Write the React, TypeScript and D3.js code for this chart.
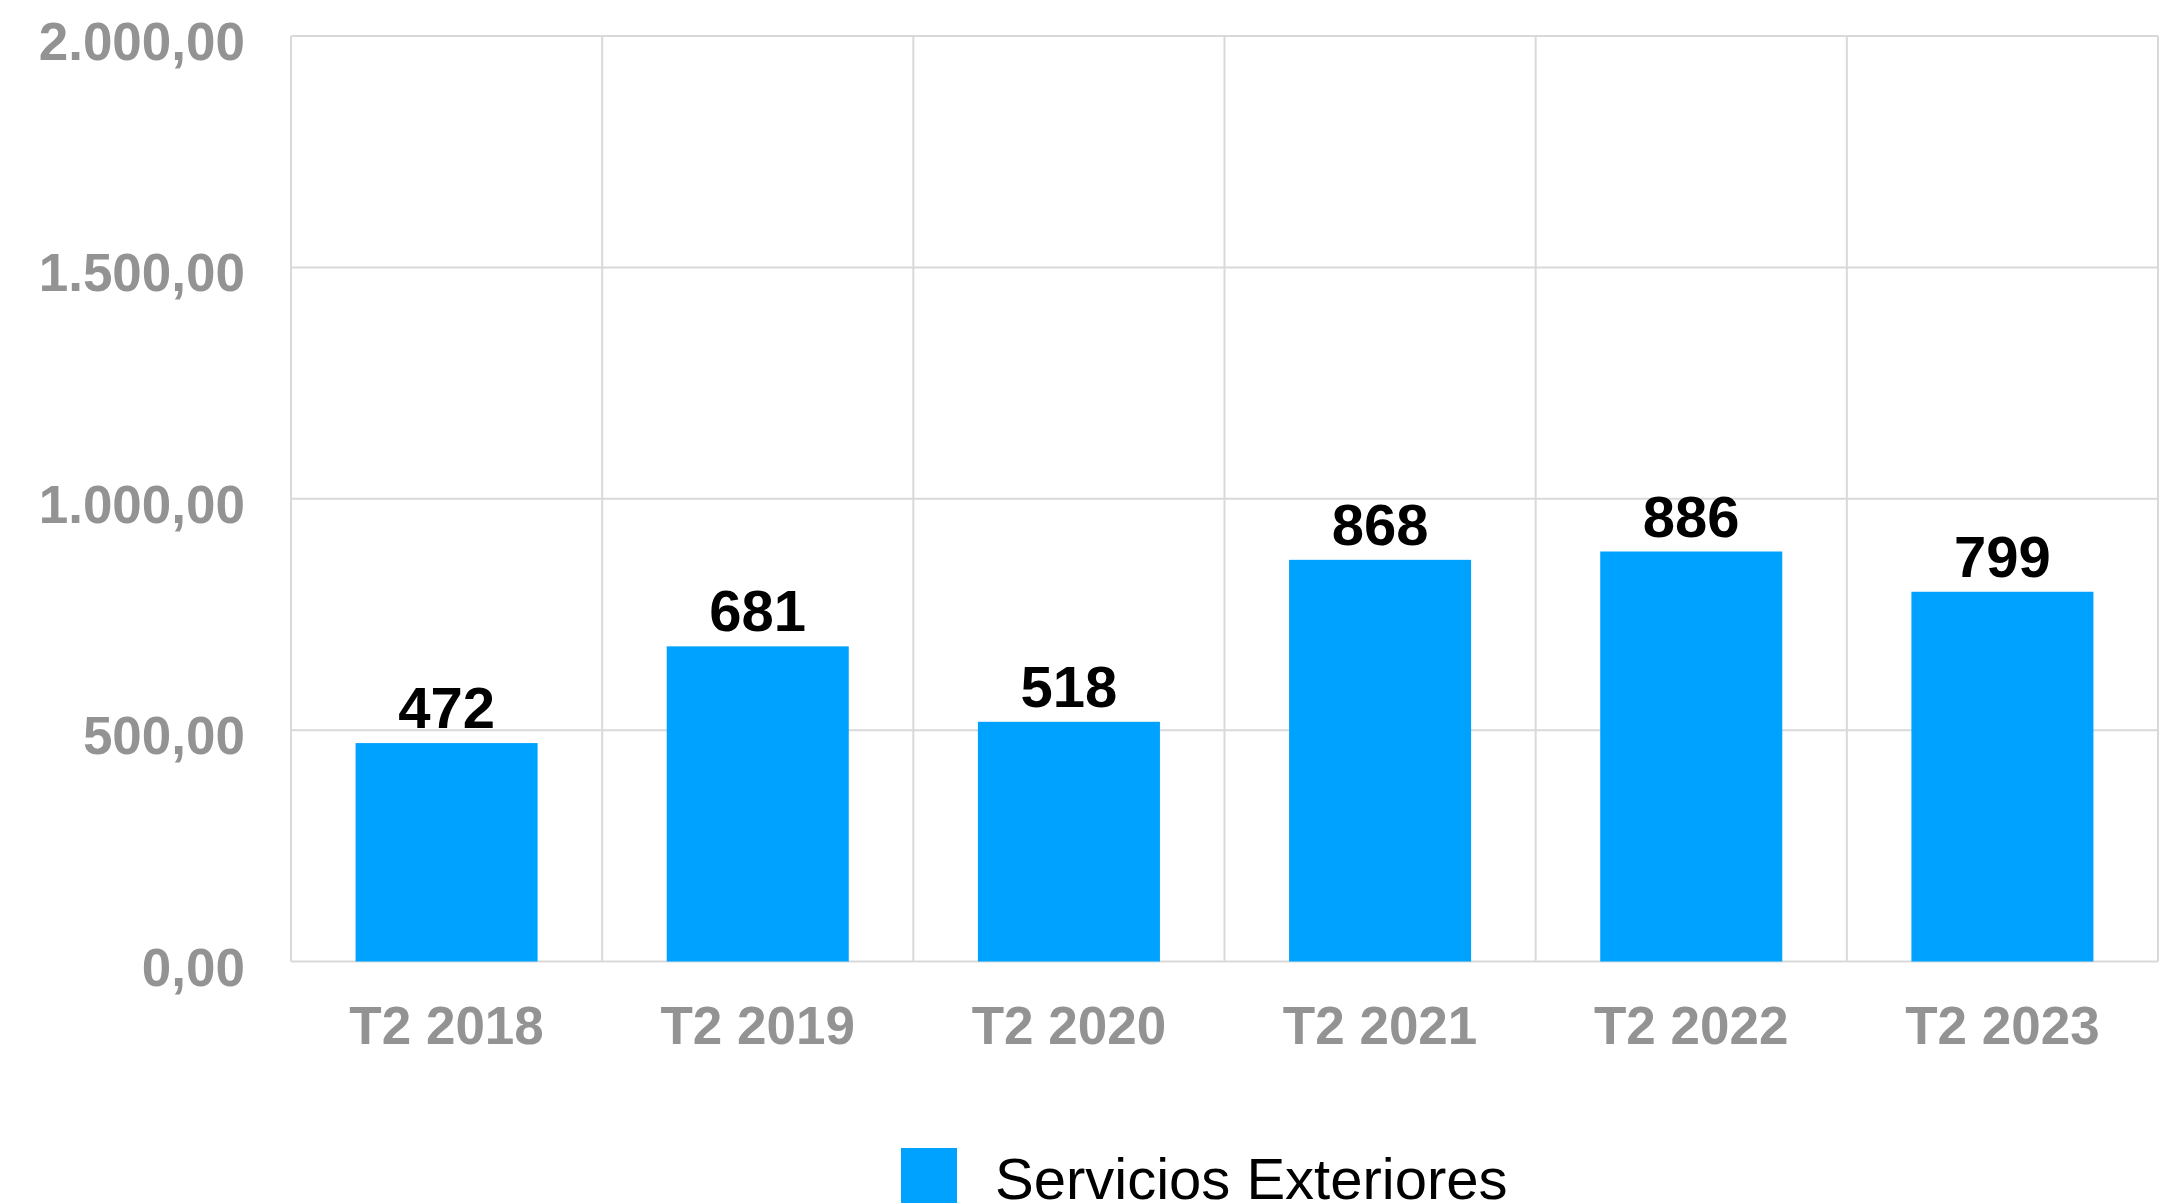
import React from "react";
import * as d3 from "d3";

const categories = ["T2 2018", "T2 2019", "T2 2020", "T2 2021", "T2 2022", "T2 2023"];
const values = [472, 681, 518, 868, 886, 799];
const yTicks = [0, 500, 1000, 1500, 2000];
const seriesName = "Servicios Exteriores";

const W = 2177;
const H = 1203;
const M = { left: 291, right: 2158, top: 36, bottom: 961.5 };
const FONT = "'Liberation Sans', Arial, Helvetica, sans-serif";
const BAR = "#00A2FF";
const GRID = "#d9d9d9";
const TICK = "#939393";

const fmt = (v: number) => {
  const s = v.toFixed(2).replace(".", ",");
  const [i, d] = s.split(",");
  return i.replace(/\B(?=(\d{3})+(?!\d))/g, ".") + "," + d;
};

export default function App() {
  if (typeof document !== "undefined") {
    document.body.style.margin = "0";
    document.body.style.overflow = "hidden";
  }
  const x = d3.scaleBand<string>().domain(categories).range([M.left, M.right]).padding(0);
  const y = d3.scaleLinear().domain([0, 2000]).range([M.bottom, M.top]);
  const bw = x.bandwidth() * 0.585;

  return (
    <svg width={W} height={H} style={{ position: "absolute", left: 0, top: 0, background: "#fff" }}>
      {/* horizontal grid */}
      {yTicks.map((t) => (
        <line key={"h" + t} x1={M.left} x2={M.right} y1={y(t)} y2={y(t)} stroke={GRID} strokeWidth={2} />
      ))}
      {/* vertical grid */}
      {categories.map((c) => (
        <line key={"v" + c} x1={x(c)!} x2={x(c)!} y1={M.top} y2={M.bottom} stroke={GRID} strokeWidth={2} />
      ))}
      <line x1={M.right} x2={M.right} y1={M.top} y2={M.bottom} stroke={GRID} strokeWidth={2} />
      {/* y tick labels */}
      {yTicks.map((t) => (
        <text key={"yl" + t} x={245} y={y(t) + 24} textAnchor="end" fontFamily={FONT} fontWeight="bold" fontSize={53} fill={TICK}>
          {fmt(t)}
        </text>
      ))}
      {/* bars */}
      {categories.map((c, i) => {
        const cx = x(c)! + x.bandwidth() / 2;
        return (
          <g key={"b" + c}>
            <rect x={cx - bw / 2} y={y(values[i])} width={bw} height={y(0) - y(values[i])} fill={BAR} />
            <text x={cx} y={y(values[i]) - 15} textAnchor="middle" fontFamily={FONT} fontWeight="bold" fontSize={58} fill="#000">
              {values[i]}
            </text>
            <text x={cx} y={1044} textAnchor="middle" fontFamily={FONT} fontWeight="bold" fontSize={53} fill={TICK}>
              {c}
            </text>
          </g>
        );
      })}
      {/* legend */}
      <rect x={901} y={1148} width={56} height={60} fill={BAR} />
      <text x={995} y={1199} fontFamily={FONT} fontSize={58} fill="#000">
        {seriesName}
      </text>
    </svg>
  );
}
